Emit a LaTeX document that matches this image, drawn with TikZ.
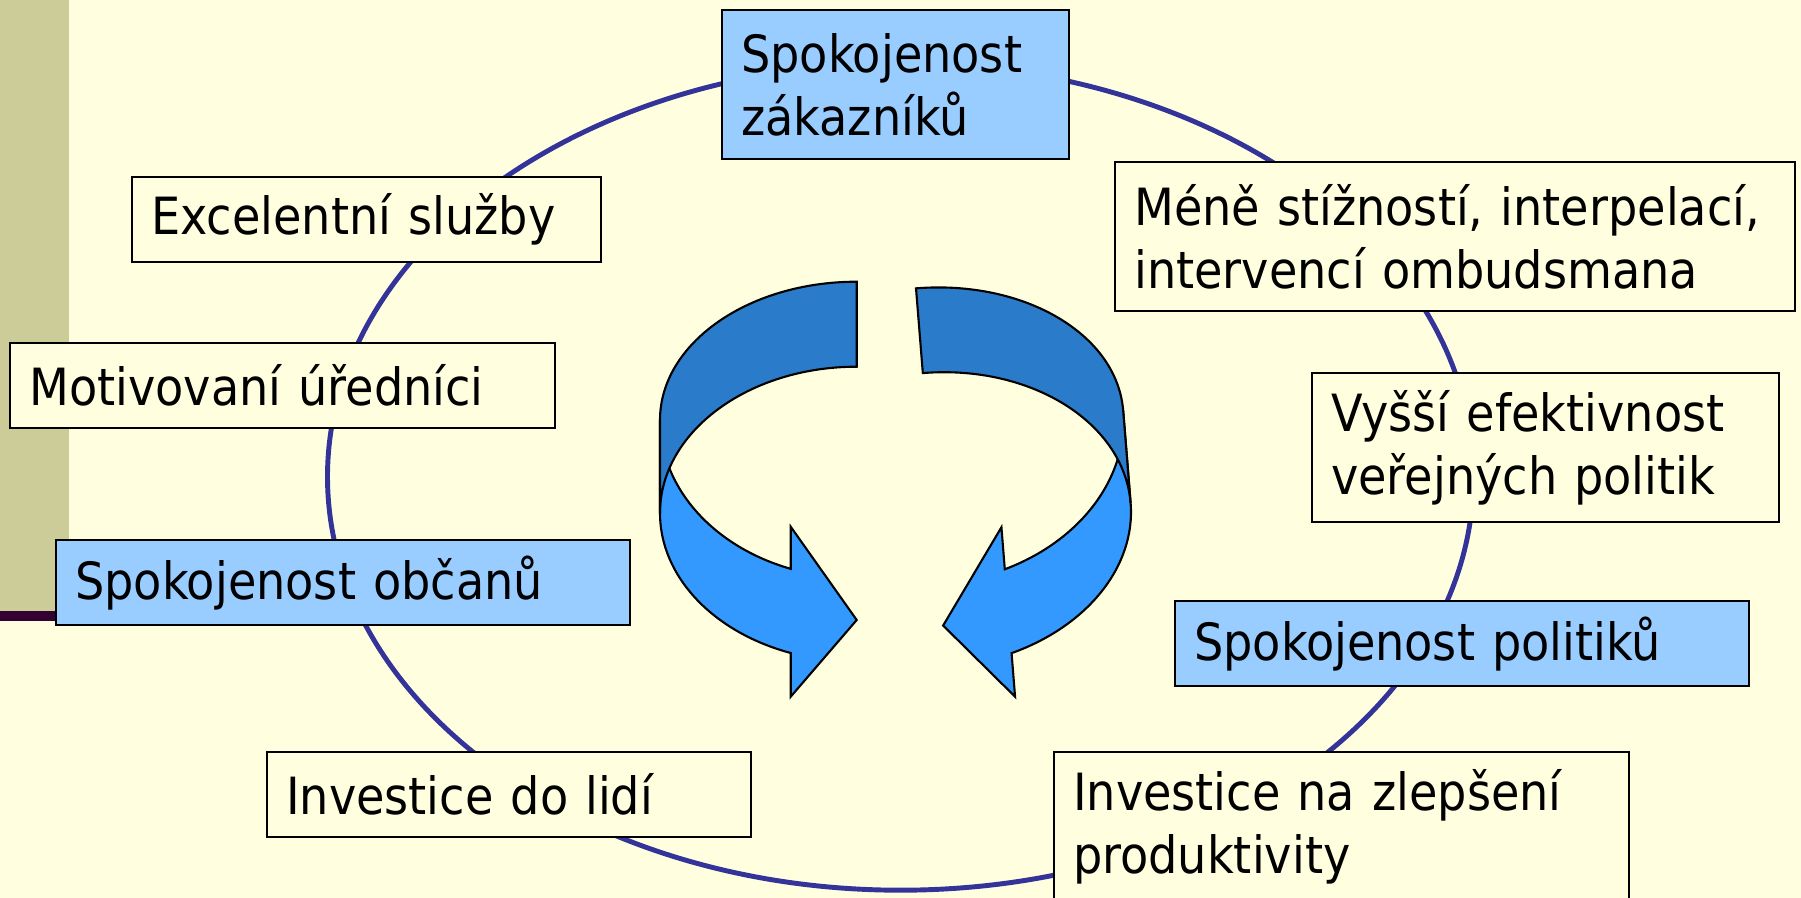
\documentclass[tikz,border=0pt]{standalone}
\usepackage{fontspec}
\setmainfont{DejaVu Sans Condensed}
\usepackage{tikz}
\usetikzlibrary{positioning,calc}
\definecolor{bgyellow}{HTML}{FFFFE0}
\definecolor{barkhaki}{HTML}{CCCC99}
\definecolor{barline}{HTML}{330033}
\definecolor{ringblue}{HTML}{333399}
\definecolor{boxblue}{HTML}{99CCFF}
\definecolor{arrowdark}{HTML}{2B7BCB}
\definecolor{arrowlight}{HTML}{3399FF}
\tikzstyle{box} = [draw=black,line width=0.7pt,fill=bgyellow,anchor=north west,inner xsep=0.19cm,inner ysep=0pt,align=left,font=\fontsize{14.6pt}{17.9pt}\selectfont]
\tikzstyle{bluebox} = [box,fill=boxblue]
\tikzstyle{onerow} = [minimum height=0.85cm]
\tikzstyle{tworow} = [minimum height=1.49cm]
\tikzstyle{ribbon} = [draw=black,line width=0.6pt,line join=miter]
% one bent arrow, origin in the centre of its upper ellipse
\newcommand{\bentarrow}{%
  \filldraw[ribbon,fill=arrowlight] (-1.967,0) arc[start angle=180,end angle=250.4,x radius=1.967,y radius=1.58]
    -- (-0.66,-1.067) -- (0,-2.0) -- (-0.66,-2.767) -- (-0.66,-2.33)
    arc[start angle=250.4,end angle=180,x radius=1.967,y radius=1.486] -- cycle;
  \filldraw[ribbon,fill=arrowdark] (0,1.383) arc[start angle=90,end angle=180,x radius=1.967,y radius=1.383]
    -- (-1.967,-0.93) arc[start angle=180,end angle=90,x radius=1.967,y radius=1.463] -- cycle;
}

\begin{document}
\begin{tikzpicture}
    \useasboundingbox (0,0) rectangle (18.01,-8.98);
    \fill[bgyellow] (0,0) rectangle (18.01,-8.98);
    \fill[barkhaki] (0,0) rectangle (0.69,-6.11);
    \draw[barline,line width=2.6pt] (0,-6.16) -- (0.6,-6.16);

    \draw[ringblue,line width=1.4pt] (9.005,-4.767) ellipse [x radius=5.73,y radius=4.135];

    \begin{scope}[shift={(8.567,-4.20)}]
      \bentarrow
    \end{scope}
    \begin{scope}[shift={(9.271,-4.262)},rotate=4.6,xscale=-1]
      \bentarrow
    \end{scope}

    \node[bluebox,tworow,text width=3.09cm] (zakaznici) at (7.21,-0.09) {Spokojenost\\zákazníků};
    \node[box,onerow,text width=4.31cm] (sluzby) at (1.31,-1.76) {Excelentní služby};
    \node[box,onerow,text width=5.07cm] (urednici) at (0.09,-3.42) {Motivovaní úředníci};
    \node[bluebox,onerow,text width=5.36cm] (obcane) at (0.55,-5.39) {Spokojenost občanů};
    \node[box,onerow,text width=4.46cm] (lide) at (2.66,-7.51) {Investice do lidí};
    \node[box,tworow,text width=6.42cm] (stiznosti) at (11.14,-1.61) {Méně stížností, interpelací,\\intervencí ombudsmana};
    \node[box,tworow,text width=4.29cm] (efektivnost) at (13.11,-3.72) {Vyšší efektivnost\\veřejných politik};
    \node[bluebox,onerow,text width=5.36cm] (politici) at (11.74,-6.00) {Spokojenost politiků};
    \node[box,tworow,text width=5.37cm] (produktivita) at (10.53,-7.51) {Investice na zlepšení\\produktivity};
\end{tikzpicture}
\end{document}
